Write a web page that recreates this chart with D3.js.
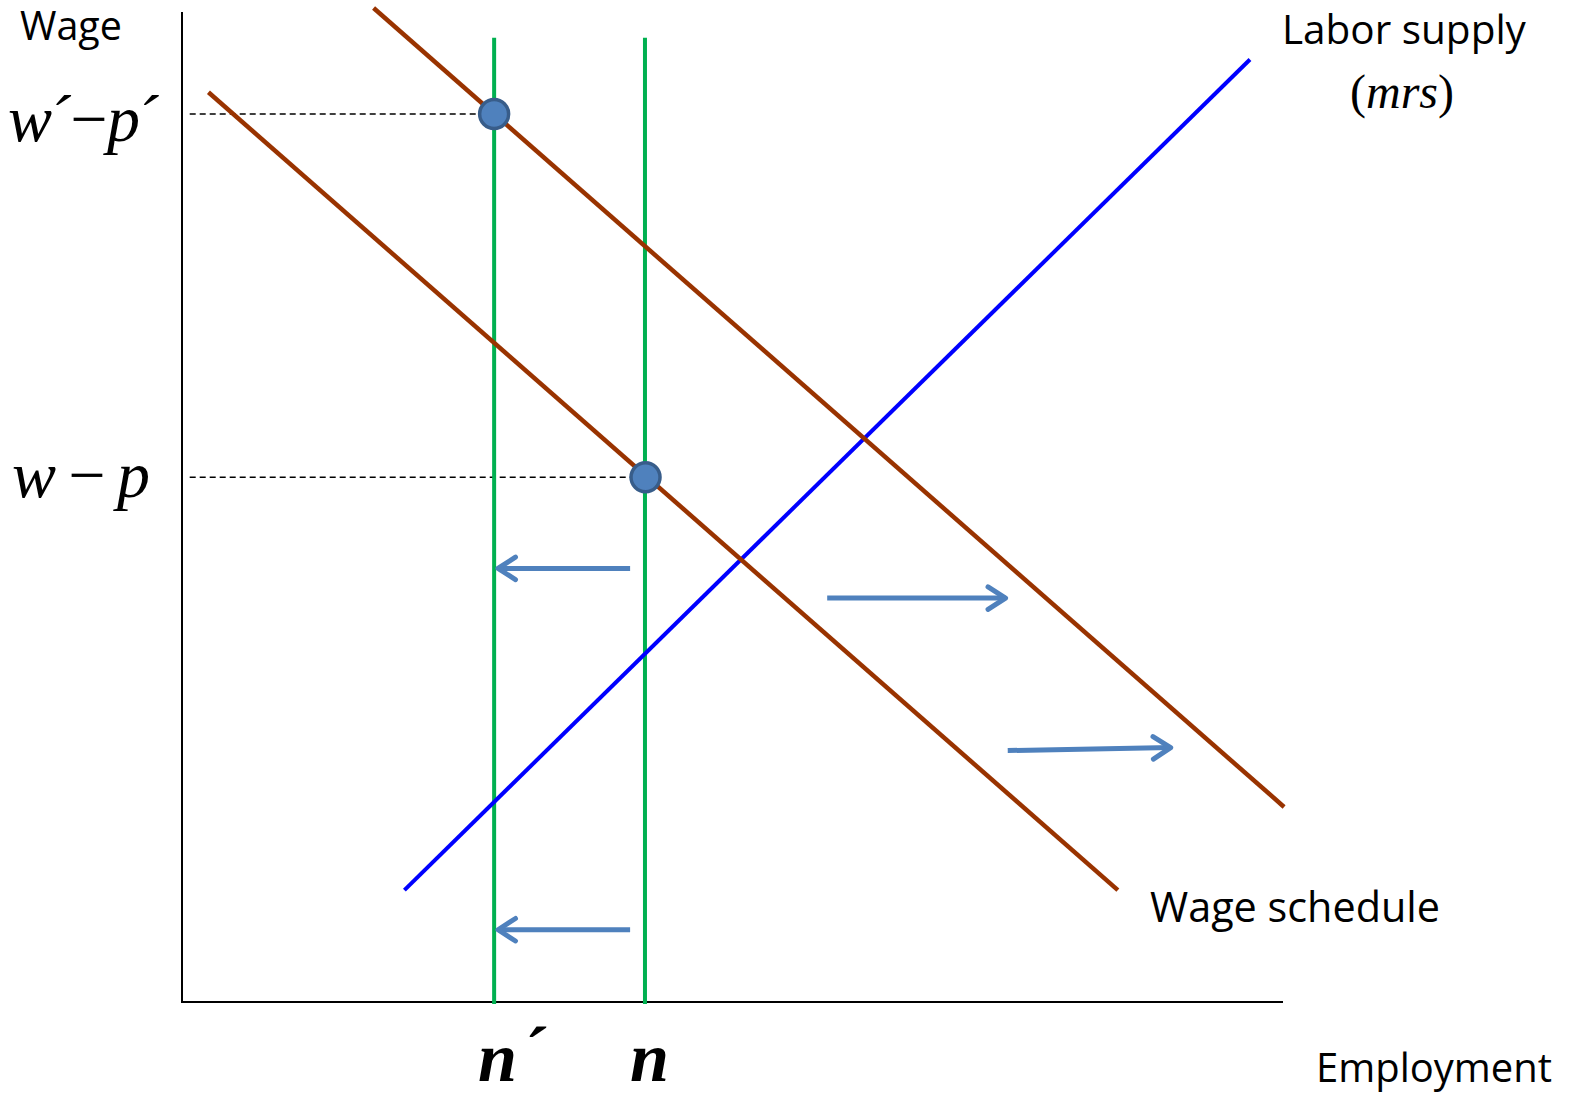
<!DOCTYPE html>
<html>
<head>
<meta charset="utf-8">
<script src="https://d3js.org/d3.v7.min.js"></script>
<style>
  body { margin: 0; background: #fff; }
  .sans { font-family: "Open Sans", "Noto Sans", sans-serif; fill: #000; }
  .math { font-family: "Liberation Serif", "DejaVu Serif", serif; font-style: italic; fill: #000; }
</style>
</head>
<body>
<svg id="chart" width="1570" height="1095"></svg>
<script>
// Diagram data in abstract units (0..100 on both axes)
const wageScheduleNew = [[17.4, 100.4], [100.1, 19.7]];
const wageScheduleOld = [[2.4, 91.9], [85.0, 11.3]];
const laborSupply = [[20.2, 11.3], [97.0, 95.2]];
const employmentLevels = [28.35, 42.05];
const verticalSpan = [-0.2, 97.4];
const equilibria = [[28.35, 89.7], [42.1, 53.0]];
const dashedFrom = 0.7;
const shiftArrows = [
  [[40.7, 43.8], [28.7, 43.8]],
  [[40.7, 7.3], [28.7, 7.3]],
  [[58.6, 40.8], [74.8, 40.8]],
  [[75.0, 25.4], [89.8, 25.7]]
];

const svg = d3.select("#chart");
const x = d3.scaleLinear().domain([0, 100]).range([182, 1283]);
const y = d3.scaleLinear().domain([0, 100]).range([1002, 12]);

// arrow marker
svg.append("defs").append("marker")
  .attr("id", "head")
  .attr("viewBox", "0 0 12 12")
  .attr("refX", 10).attr("refY", 6)
  .attr("markerWidth", 6).attr("markerHeight", 6)
  .attr("markerUnits", "strokeWidth")
  .attr("orient", "auto")
  .append("path")
  .attr("d", "M3,1.5 L10,6 L3,10.5")
  .attr("fill", "none")
  .attr("stroke", "#4f81bd")
  .attr("stroke-width", 2)
  .attr("stroke-linecap", "round")
  .attr("stroke-linejoin", "round");

const line = d3.line().x(d => x(d[0])).y(d => y(d[1]));

// axes
svg.append("path").attr("d", line([[0, 100], [0, 0], [100, 0]]))
  .attr("fill", "none").attr("stroke", "#000").attr("stroke-width", 2);

// dashed guides
equilibria.forEach(p => {
  svg.append("path").attr("d", line([[dashedFrom, p[1]], p]))
    .attr("stroke", "#000").attr("stroke-width", 1.4).attr("stroke-dasharray", "6,4");
});

// green verticals
employmentLevels.forEach(n => {
  svg.append("path").attr("d", line([[n, verticalSpan[0]], [n, verticalSpan[1]]]))
    .attr("stroke", "#00b050").attr("stroke-width", 4);
});

// labor supply
svg.append("path").attr("d", line(laborSupply))
  .attr("stroke", "#0000ff").attr("stroke-width", 4);

// wage schedules
[wageScheduleOld, wageScheduleNew].forEach(s => {
  svg.append("path").attr("d", line(s))
    .attr("stroke", "#993300").attr("stroke-width", 4.5);
});

// shift arrows
shiftArrows.forEach(a => {
  svg.append("path").attr("d", line(a))
    .attr("stroke", "#4f81bd").attr("stroke-width", 5)
    .attr("fill", "none").attr("marker-end", "url(#head)");
});

// equilibrium dots
svg.selectAll("circle.eq").data(equilibria).join("circle")
  .attr("class", "eq")
  .attr("cx", d => x(d[0])).attr("cy", d => y(d[1]))
  .attr("r", 14.5)
  .attr("fill", "#4f81bd").attr("stroke", "#385d8a").attr("stroke-width", 3.5);

// text labels
function label(txt, cls, px, py, size, anchor, width) {
  const t = svg.append("text").attr("class", cls)
    .attr("x", px).attr("y", py)
    .attr("font-size", size)
    .attr("text-anchor", anchor || "start")
    .text(txt);
  if (width) {
    const w = t.node().getComputedTextLength();
    t.attr("font-size", size * width / w);
  }
  return t;
}
label("Wage", "sans", 20, 40, 40, "start", 102);
label("Labor supply", "sans", 1282, 44, 40, "start", 244);
label("Wage schedule", "sans", 1150, 922, 40, "start", 290);
label("Employment", "sans", 1316, 1082, 40, "start", 236);

// math labels: glyph size kept, spacing squeezed to the reference width
label("w´−p´", "math", 8, 141, 66)
  .attr("textLength", 150).attr("lengthAdjust", "spacing");
label("w − p", "math", 12, 497, 66)
  .attr("textLength", 138).attr("lengthAdjust", "spacing");

const m3 = svg.append("text").attr("class", "math").attr("x", 1350).attr("y", 108).attr("font-size", 48);
m3.append("tspan").text("(").attr("font-style", "normal");
m3.append("tspan").text("mrs");
m3.append("tspan").text(")").attr("font-style", "normal");

const nx = svg.append("text").attr("class", "math").attr("x", 478).attr("y", 1081)
  .attr("font-size", 70).attr("font-weight", "bold");
nx.append("tspan").text("n");
nx.append("tspan").text("´").attr("dx", 4).attr("dy", -6);

svg.append("text").attr("class", "math").attr("x", 630).attr("y", 1081)
  .attr("font-size", 70).attr("font-weight", "bold").text("n");
</script>
</body>
</html>
